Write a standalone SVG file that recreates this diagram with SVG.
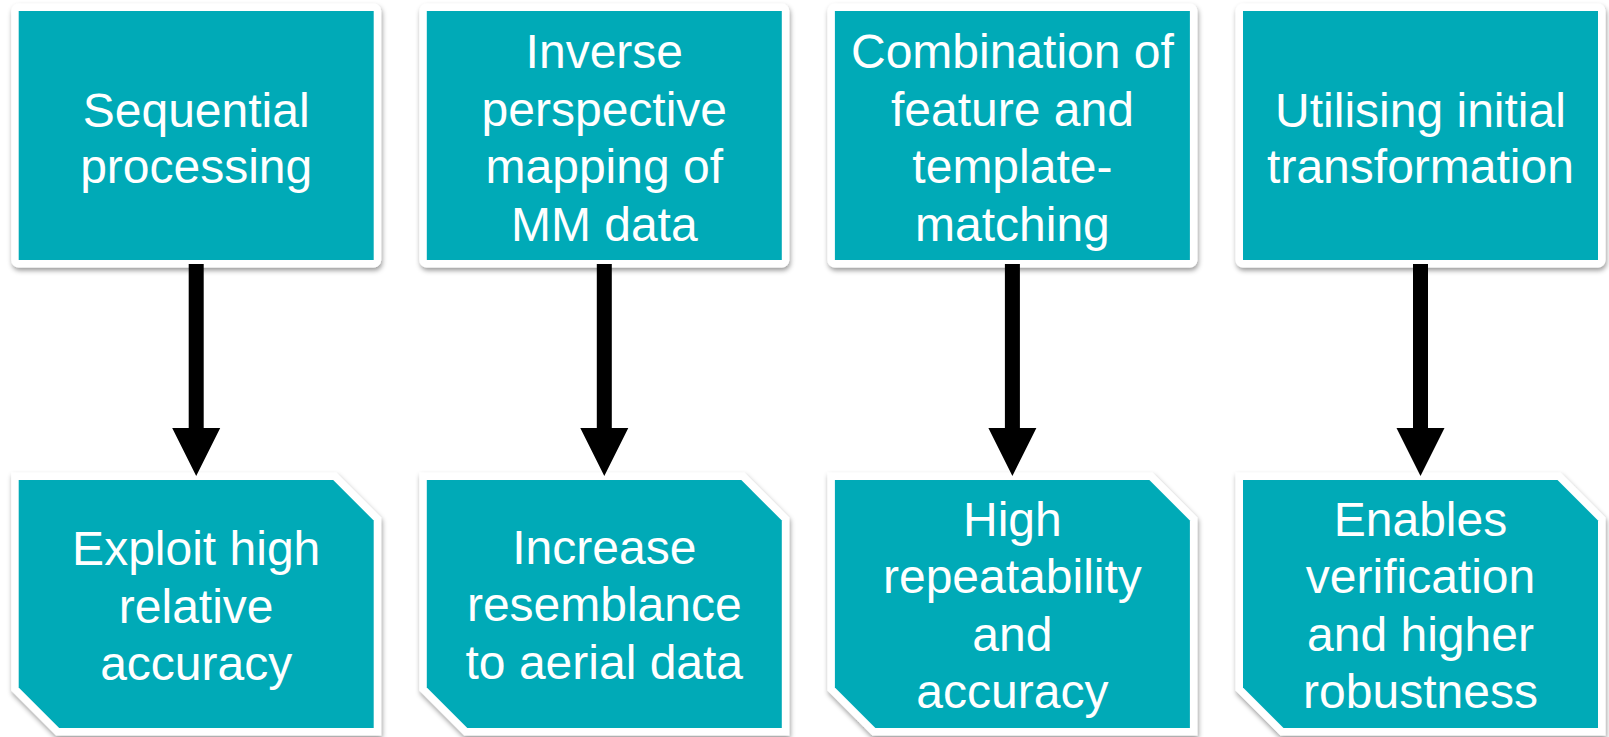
<svg xmlns="http://www.w3.org/2000/svg" width="1609" height="737" viewBox="0 0 1609 737">
<style>
.box{fill:#03AAB7;stroke:#FFFFFF;stroke-width:15;stroke-linejoin:round;paint-order:stroke;filter:url(#sh)}
.cut{fill:#03AAB7;stroke:#FFFFFF;stroke-width:15;stroke-linejoin:miter;paint-order:stroke;filter:url(#sh)}
.t{font-family:"Liberation Sans",Arial,sans-serif;font-size:48px;fill:#FFFFFF;text-anchor:middle}
.arrow{fill:#000000}
</style>
<defs>
<filter id="sh" x="-10%" y="-10%" width="120%" height="125%">
<feDropShadow dx="1" dy="3" stdDeviation="2.5" flood-color="#000" flood-opacity="0.4"/>
</filter>
<path id="cutShape" d="M0,0 H314.5 L355,40.5 V248 H40.5 L0,207.5 Z"/>
</defs>
<rect width="1609" height="737" fill="#FFFFFF"/>

<g id="top1">
<rect class="box" x="18.7" y="11" width="355" height="249"/>
<text class="t" x="196.2" y="126.5">Sequential</text>
<text class="t" x="196.2" y="183.3">processing</text>
</g>
<g id="top2">
<rect class="box" x="426.8" y="11" width="355" height="249"/>
<text class="t" x="604.3" y="68.1">Inverse</text>
<text class="t" x="604.3" y="125.7">perspective</text>
<text class="t" x="604.3" y="183.3">mapping of</text>
<text class="t" x="604.3" y="240.9">MM data</text>
</g>
<g id="top3">
<rect class="box" x="834.9" y="11" width="355" height="249"/>
<text class="t" x="1012.4" y="68.1">Combination of</text>
<text class="t" x="1012.4" y="125.7">feature and</text>
<text class="t" x="1012.4" y="183.3">template-</text>
<text class="t" x="1012.4" y="240.9">matching</text>
</g>
<g id="top4">
<rect class="box" x="1243" y="11" width="355" height="249"/>
<text class="t" x="1420.5" y="126.5">Utilising initial</text>
<text class="t" x="1420.5" y="183.3">transformation</text>
</g>

<g id="bottom1">
<use href="#cutShape" class="cut" x="18.7" y="480"/>
<text class="t" x="196.2" y="565">Exploit high</text>
<text class="t" x="196.2" y="622.6">relative</text>
<text class="t" x="196.2" y="680.2">accuracy</text>
</g>
<g id="bottom2">
<use href="#cutShape" class="cut" x="426.8" y="480"/>
<text class="t" x="604.3" y="563.5">Increase</text>
<text class="t" x="604.3" y="621.1">resemblance</text>
<text class="t" x="604.3" y="678.7">to aerial data</text>
</g>
<g id="bottom3">
<use href="#cutShape" class="cut" x="834.9" y="480"/>
<text class="t" x="1012.4" y="535.6">High</text>
<text class="t" x="1012.4" y="593.2">repeatability</text>
<text class="t" x="1012.4" y="650.8">and</text>
<text class="t" x="1012.4" y="708.4">accuracy</text>
</g>
<g id="bottom4">
<use href="#cutShape" class="cut" x="1243" y="480"/>
<text class="t" x="1420.5" y="535.6">Enables</text>
<text class="t" x="1420.5" y="593.2">verification</text>
<text class="t" x="1420.5" y="650.8">and higher</text>
<text class="t" x="1420.5" y="708.4">robustness</text>
</g>

<g id="connectors">
<polygon class="arrow" points="188.7,264 203.7,264 203.7,428 220.2,428 196.2,476 172.2,428 188.7,428"/>
<polygon class="arrow" points="596.8,264 611.8,264 611.8,428 628.3,428 604.3,476 580.3,428 596.8,428"/>
<polygon class="arrow" points="1004.9,264 1019.9,264 1019.9,428 1036.4,428 1012.4,476 988.4,428 1004.9,428"/>
<polygon class="arrow" points="1413,264 1428,264 1428,428 1444.5,428 1420.5,476 1396.5,428 1413,428"/>
</g>
</svg>
